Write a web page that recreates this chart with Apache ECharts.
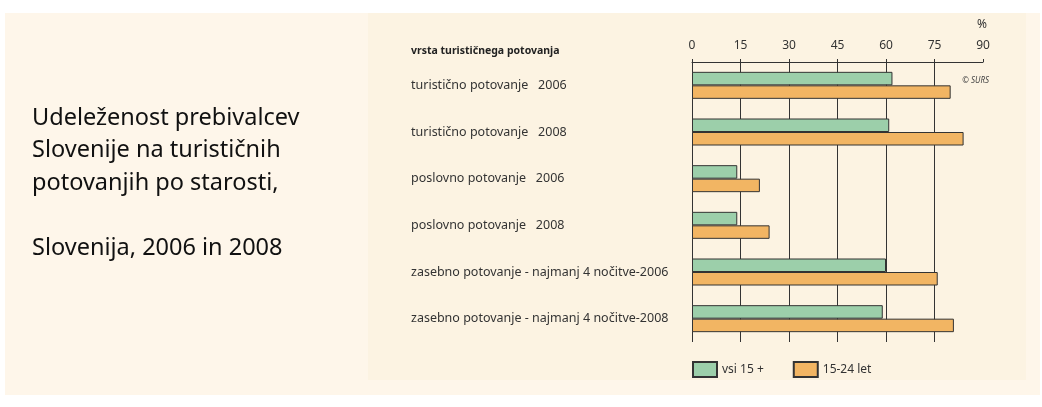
<!DOCTYPE html>
<html>
<head>
<meta charset="utf-8">
<script src="https://cdn.jsdelivr.net/npm/echarts@6/dist/echarts.min.js"></script>
<style>
html,body{margin:0;padding:0;background:#ffffff;}
#c{width:1042px;height:407px;}
</style>
</head>
<body>
<div id="c"></div>
<script>
const categories = [
  'turistično potovanje   2006',
  'turistično potovanje   2008',
  'poslovno potovanje   2006',
  'poslovno potovanje   2008',
  'zasebno potovanje - najmanj 4 nočitve-2006',
  'zasebno potovanje - najmanj 4 nočitve-2008'
];
const seriesNames = ['vsi 15 +', '15-24 let'];
const all15 = [62, 61, 14, 14, 60, 59];
const young = [80, 84, 21, 24, 76, 81];
const xTicks = [0, 15, 30, 45, 60, 75, 90];
const titleLines = ['Udeleženost prebivalcev', 'Slovenije na turističnih', 'potovanjih po starosti,', '', 'Slovenija, 2006 in 2008'];

const chart = echarts.init(document.getElementById('c'), null, {renderer: 'canvas'});
const FONT = 'Noto Sans';
const gridColor = '#333333';
const splitColors = xTicks.map((t, i) => i === xTicks.length - 1 ? 'rgba(0,0,0,0)' : gridColor);

const titleGraphics = [];
titleLines.forEach((t, i) => {
  if (!t) return;
  titleGraphics.push({
    type: 'text', left: 32, top: 106 + i * 32.5,
    style: {text: t, font: '23.5px "' + FONT + '"', fill: '#111111'}
  });
});

chart.setOption({
  backgroundColor: '#ffffff',
  animation: false,
  textStyle: {fontFamily: FONT},
  graphic: [
    {type: 'rect', left: 5, top: 13, z: -10, shape: {width: 1035, height: 382}, style: {fill: '#fef6ea'}},
    {type: 'rect', left: 368, top: 13, z: -9, shape: {width: 658, height: 367}, style: {fill: '#fcf3e2'}},
    ...titleGraphics,
    {type: 'text', left: 411, top: 46, style: {text: 'vrsta turističnega potovanja', font: 'bold 10.5px "' + FONT + '"', fill: '#222222'}},
    {type: 'text', left: 977, top: 19, style: {text: '%', font: '12px "' + FONT + '"', fill: '#333333'}},
    {type: 'text', right: 53, top: 77, style: {text: '© SURS', font: 'italic 8px "' + FONT + '"', fill: '#444444', align: 'right'}}
  ],
  legend: {
    left: 687, top: 356,
    itemWidth: 24, itemHeight: 15, itemGap: 29,
    icon: 'rect',
    textStyle: {fontSize: 12, color: '#333333', fontFamily: FONT},
    data: seriesNames
  },
  grid: {left: 692, right: 59, top: 62, bottom: 65, containLabel: false},
  xAxis: {
    type: 'value', position: 'top', min: 0, max: 90, interval: 15,
    axisLine: {show: true, lineStyle: {color: gridColor, width: 1}},
    axisTick: {show: true, length: 3, lineStyle: {color: gridColor}},
    axisLabel: {margin: 10, fontSize: 12, color: '#333333', fontFamily: FONT},
    splitLine: {show: true, lineStyle: {color: splitColors, width: 1}}
  },
  yAxis: {
    type: 'category', inverse: true, data: categories,
    axisLine: {show: false}, axisTick: {show: false},
    axisLabel: {align: 'left', margin: 281, fontSize: 12.5, color: '#333333', fontFamily: FONT}
  },
  series: [
    {name: seriesNames[0], type: 'bar', data: all15, barWidth: 13.5, barGap: '0%',
     itemStyle: {color: '#9ccfaa', borderColor: '#333333', borderWidth: 1}},
    {name: seriesNames[1], type: 'bar', data: young, barWidth: 13.5, barGap: '0%',
     itemStyle: {color: '#f2b563', borderColor: '#333333', borderWidth: 1}}
  ]
});
</script>
</body>
</html>
